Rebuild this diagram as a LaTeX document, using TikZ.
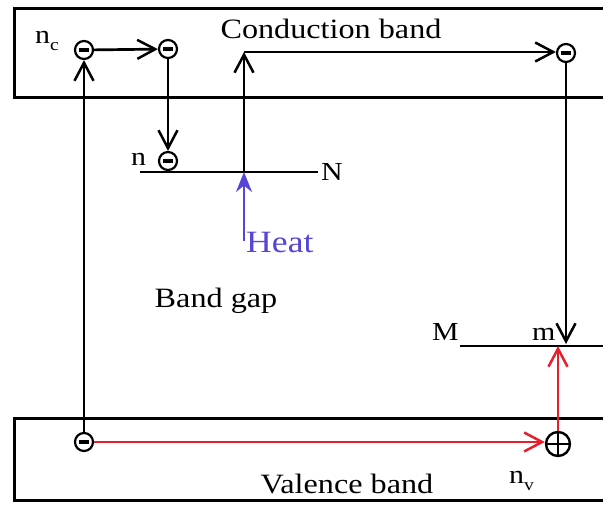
\documentclass[tikz,border=0pt]{standalone}
\usepackage{fontspec}
\setmainfont{Liberation Serif}[FakeStretch=1.15]
\usetikzlibrary{arrows.meta}
\definecolor{heatc}{RGB}{85,70,215}
\definecolor{redc}{RGB}{232,30,45}
\tikzset{
  elec/.style={circle, draw, line width=2.2pt, minimum size=18pt, inner sep=0pt,
    path picture={\draw[line width=3.6pt] ([xshift=-5pt]path picture bounding box.center) -- ([xshift=5pt]path picture bounding box.center);}},
  hole/.style={circle, draw, line width=2.4pt, minimum size=24pt, inner sep=0pt,
    path picture={\draw[line width=2.6pt] (path picture bounding box.west) -- (path picture bounding box.east)
      (path picture bounding box.north) -- (path picture bounding box.south);}},
  band/.style={line width=3pt},
  lvl/.style={line width=2.8pt},
  arr/.style={line width=2.7pt, -{Straight Barb[length=18pt,width=19pt,line width=2.5pt]}},
  redarr/.style={line width=2.7pt, draw=redc, -{Straight Barb[length=18pt,width=19pt,line width=2.5pt,color=redc]}},
  heatarr/.style={line width=2.7pt, draw=heatc, -{Stealth[length=20pt,width=16pt,color=heatc]}},
  lbl/.style={inner sep=0pt, anchor=base, font=\fontsize{28}{30}\selectfont},
  lblw/.style={inner sep=0pt, anchor=base west, font=\fontsize{26}{30}\selectfont},
}
\newcommand{\subs}[1]{\raisebox{-0.28em}{\fontsize{17}{17}\selectfont #1}}
\begin{document}
\begin{tikzpicture}[x=1pt,y=-1pt]
\useasboundingbox (0,0) rectangle (603,506);
\clip (0,0) rectangle (603,506);
\fill[white] (0,0) rectangle (603,506);
% bands
\draw[band] (615,8) -- (14,8) -- (14,97) -- (615,97);
\draw[band] (615,418) -- (14,418) -- (14,500) -- (615,500);
% levels
\draw[lvl] (140,172) coordinate (Nl) -- (318,172) coordinate (Nr);
\draw[lvl] (460,346) coordinate (Ml) -- (615,346) coordinate (Mr);
% electrons
\node[elec] (e1) at (84,50) {};
\node[elec] (e2) at (168,49) {};
\node[elec] (e3) at (168,161) {};
\node[elec] (e4) at (566,53) {};
\node[elec] (e5) at (84,442) {};
\node[hole] (h) at (558,444) {};
\coordinate (nN) at (244,172);
\coordinate (c1) at (244,52);
\coordinate (mB) at (566,344);
\coordinate (mR) at (558,346);
\coordinate (hs) at (244,241);
% arrows
\draw[arr] (e1) -- (e2);
\draw[arr] (e2) -- (e3);
\draw[arr] (nN) -- (c1);
\draw[arr] (c1) -- (c1 -| e4.west);
\draw[arr] (e4) -- (mB);
\draw[arr] (e5) -- (e1);
\draw[redarr] (e5) -- (e5 -| h.west);
\draw[redarr] (h) -- (mR);
\draw[heatarr] (hs) -- (nN);
% labels
\node[lbl] (tcb) at (331,38) {Conduction band};
\node[lbl] (tbg) at (216,307) {Band gap};
\node[lbl] (tvb) at (347,493) {Valence band};
\node[inner sep=0pt, anchor=base west, text=heatc, font=\fontsize{31}{32}\selectfont] (theat) at (246,252) {Heat};
\node[lblw] (tnc) at (35,43) {n\subs{c}};
\node[lblw] (tn) at (131,165) {n};
\node[lblw] (tN) at (321,180) {N};
\node[lblw] (tM) at (432,340) {M};
\node[lblw] (tm) at (532,340) {m};
\node[lblw] (tnv) at (509,483) {n\subs{v}};
\end{tikzpicture}
\end{document}
